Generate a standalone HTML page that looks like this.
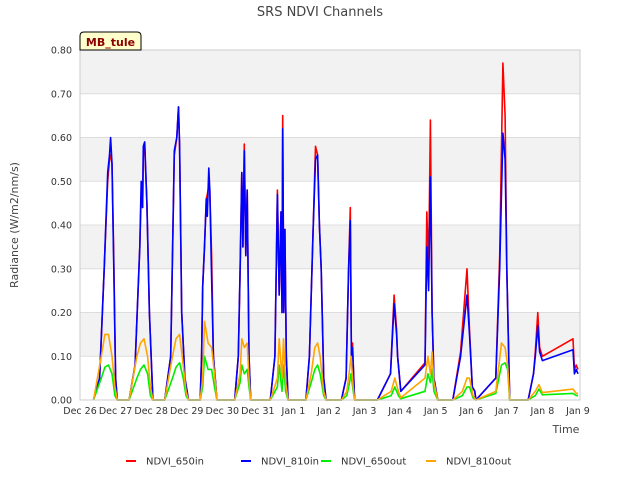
<!DOCTYPE html>
<html><head><meta charset="utf-8"><style>
body{margin:0;background:#fff;font-family:"Liberation Sans","DejaVu Sans",sans-serif}
svg text{font-family:"DejaVu Sans","Liberation Sans",sans-serif}
</style></head><body>
<svg id="chart" width="640" height="480" xmlns="http://www.w3.org/2000/svg">
<rect width="640" height="480" fill="#fff"/>
<g id="bands"></g><g id="grid"></g>
<g id="series"></g>
<rect x="80" y="50" width="500" height="350" fill="none" stroke="#ccc"/>
<g id="yticks"></g><g id="xticks"></g>
<text x="320" y="16" text-anchor="middle" font-size="13" fill="#444">SRS NDVI Channels</text>
<text transform="translate(18,225) rotate(-90)" text-anchor="middle" font-size="11" fill="#444">Radiance (W/m2/nm/s)</text>
<text x="566" y="433" text-anchor="middle" font-size="11" fill="#444">Time</text>
<g>
<path d="M80,50 L80,36 Q80,32 84,32 L137,32 Q141,32 141,36 L141,50 Z" fill="#ffffcc" stroke="#000" stroke-width="1"/>
<text x="110.5" y="46" text-anchor="middle" font-size="11" font-weight="bold" fill="#8b0000">MB_tule</text>
</g>
<g id="legend"></g>
</svg>
<script>
const yTicks=[0,0.1,0.2,0.3,0.4,0.5,0.6,0.7,0.8];
const xTickLabels=["Dec 26","Dec 27","Dec 28","Dec 29","Dec 30","Dec 31","Jan 1","Jan 2","Jan 3","Jan 4","Jan 5","Jan 6","Jan 7","Jan 8","Jan 9"];
const seriesNames=["NDVI_650in","NDVI_810in","NDVI_650out","NDVI_810out"];
const T1=[0.38,0.55,0.68,0.78,0.83,0.86,0.9,0.95,1.0,1.05,
1.38,1.55,1.68,1.72,1.76,1.78,1.82,1.88,1.95,2.05,
2.38,2.55,2.65,2.72,2.77,2.8,2.86,2.95,3.05,
3.38,3.42,3.45,3.5,3.55,3.58,3.62,3.65,3.7,3.75,3.8,3.85,
4.35,4.45,4.5,4.55,4.58,4.62,4.66,4.7,4.75,4.8,
5.35,5.48,5.55,5.6,5.65,5.68,5.7,5.73,5.76,5.8,5.85,
6.35,6.45,6.55,6.62,6.68,6.73,6.78,6.85,6.92,
7.35,7.48,7.55,7.6,7.63,7.66,7.72,
8.36,8.73,8.83,8.9,8.93,9.02,9.7,9.75,9.8,9.85,9.9,9.95,10.06,
10.48,10.7,10.88,10.95,11.03,11.1,11.13,
11.69,11.8,11.89,11.95,12.0,12.08,
12.6,12.75,12.8,12.87,12.92,13.0,13.86,13.9,13.95,14.0];
const in810=[0,0.05,0.30,0.52,0.56,0.60,0.54,0.30,0.05,0,
0,0.08,0.35,0.50,0.44,0.58,0.59,0.45,0.20,0,
0,0.10,0.57,0.60,0.67,0.58,0.20,0.05,0,
0,0.10,0.26,0.35,0.46,0.42,0.53,0.48,0.28,0.10,0.05,0,
0,0.10,0.30,0.52,0.35,0.57,0.33,0.48,0.10,0,
0,0.10,0.47,0.24,0.43,0.20,0.62,0.20,0.39,0.10,0,
0,0.10,0.38,0.55,0.56,0.40,0.30,0.05,0,
0,0.05,0.30,0.41,0.10,0.12,0,
0,0.06,0.22,0.15,0.10,0.02,0.08,0.35,0.25,0.51,0.20,0.05,0,
0,0.10,0.24,0.15,0.03,0.02,0,
0.05,0.30,0.61,0.55,0.30,0,
0,0.06,0.10,0.17,0.11,0.09,0.115,0.06,0.07,0.06];
const in650=[0,0.05,0.30,0.50,0.55,0.56,0.54,0.32,0.05,0,
0,0.08,0.35,0.47,0.44,0.56,0.58,0.45,0.20,0,
0,0.10,0.56,0.60,0.67,0.58,0.20,0.05,0,
0,0.10,0.26,0.35,0.46,0.47,0.49,0.48,0.33,0.10,0.05,0,
0,0.10,0.29,0.52,0.35,0.585,0.33,0.48,0.10,0,
0,0.10,0.48,0.24,0.43,0.20,0.65,0.20,0.39,0.10,0,
0,0.10,0.38,0.58,0.56,0.40,0.30,0.05,0,
0,0.05,0.30,0.44,0.10,0.13,0,
0,0.06,0.24,0.16,0.10,0.02,0.085,0.43,0.30,0.64,0.20,0.05,0,
0,0.11,0.30,0.16,0.03,0.02,0,
0.05,0.33,0.77,0.65,0.30,0,
0,0.06,0.11,0.20,0.12,0.10,0.14,0.07,0.08,0.07];
const T2=[0.38,0.6,0.7,0.8,0.9,0.98,1.05,
1.38,1.6,1.7,1.8,1.9,1.98,2.05,
2.38,2.6,2.7,2.8,2.9,2.98,3.05,
3.38,3.45,3.5,3.6,3.7,3.78,3.85,
4.35,4.5,4.55,4.62,4.7,4.75,4.8,
5.35,5.55,5.6,5.68,5.72,5.78,5.85,
6.35,6.5,6.6,6.68,6.75,6.85,6.92,
7.35,7.5,7.58,7.62,7.68,7.72,
8.36,8.75,8.85,8.95,9.02,9.7,9.78,9.85,9.9,9.95,10.06,
10.48,10.75,10.88,10.95,11.05,11.13,
11.69,11.85,11.95,12.02,12.08,
12.6,12.8,12.9,13.0,13.86,13.95,14.0];
const out810=[0,0.10,0.15,0.15,0.10,0.03,0,
0,0.10,0.13,0.14,0.10,0.03,0,
0,0.10,0.14,0.15,0.08,0.02,0,
0,0.05,0.18,0.13,0.12,0.06,0,
0,0.06,0.14,0.12,0.13,0.05,0,
0,0.05,0.14,0.05,0.14,0.04,0,
0,0.06,0.12,0.13,0.10,0.02,0,
0,0.02,0.07,0.10,0.03,0,
0,0.02,0.05,0.02,0.005,0.05,0.10,0.06,0.11,0.04,0,
0,0.02,0.05,0.05,0.01,0,
0.02,0.13,0.12,0.08,0,
0,0.02,0.035,0.017,0.025,0.015,0.015];
const out650=[0,0.05,0.075,0.08,0.06,0.01,0,
0,0.05,0.07,0.08,0.06,0.01,0,
0,0.05,0.075,0.085,0.05,0.01,0,
0,0.03,0.10,0.07,0.07,0.03,0,
0,0.04,0.08,0.06,0.07,0.03,0,
0,0.03,0.08,0.02,0.08,0.02,0,
0,0.04,0.07,0.08,0.06,0.01,0,
0,0.01,0.04,0.06,0.02,0,
0,0.01,0.03,0.01,0.003,0.02,0.06,0.04,0.07,0.02,0,
0,0.01,0.03,0.03,0.005,0,
0.015,0.08,0.085,0.07,0,
0,0.01,0.025,0.012,0.015,0.01,0.01];

const NS="http://www.w3.org/2000/svg";
const X0=80,X1=580,Y0=400,Y1=50,DAYW=35.57;
const xs=t=>X0+t*DAYW;
const ys=v=>Y0-(v/0.8)*(Y0-Y1);
function mk(tag,attrs,parent){const e=document.createElementNS(NS,tag);for(const k in attrs)e.setAttribute(k,attrs[k]);parent.appendChild(e);return e;}
const bands=document.getElementById('bands'),grid=document.getElementById('grid');
for(let i=0;i<yTicks.length-1;i++){
  if(i%2===1){const r=mk('rect',{x:X0,y:ys(yTicks[i+1]),width:X1-X0,height:ys(yTicks[i])-ys(yTicks[i+1]),fill:'#f2f2f2'},bands);
  
  }
}
const yt=document.getElementById('yticks');
yTicks.forEach(v=>{
  const l=mk('line',{x1:X0,x2:X1,y1:ys(v),y2:ys(v),stroke:'#ddd'},grid);
  
  
  const t=mk('text',{x:72,y:ys(v)+3.5,'text-anchor':'end','font-size':'9.5',fill:'#333'},yt);
  
  
  t.textContent=v.toFixed(2);
});
const xt=document.getElementById('xticks');
xTickLabels.forEach((s,i)=>{
  const t=mk('text',{x:xs(i),y:414,'text-anchor':'middle','font-size':'9.5',fill:'#333'},xt);
  
  
  t.textContent=s;
});
const sg=document.getElementById('series');
function draw(T,V,color,name){
  const d=T.map((t,i)=>(i?'L':'M')+xs(t).toFixed(1)+','+ys(V[i]).toFixed(1)).join('');
  const p=mk('path',{d:d,fill:'none',stroke:color,'stroke-width':'1.6','stroke-linejoin':'round'},sg);
  
  
}
draw(T1,in650,'#ff0000','ndvi-650in');
draw(T1,in810,'#0000ff','ndvi-810in');
draw(T2,out650,'#00ee00','ndvi-650out');
draw(T2,out810,'#ffa500','ndvi-810out');
const colors=['#ff0000','#0000ff','#00ee00','#ffa500'];
const lx=[126,241,321,426];
const lg=document.getElementById('legend');
seriesNames.forEach((n,i)=>{
  const g=mk('g',{},lg);
  
  
  mk('line',{x1:lx[i],x2:lx[i]+10,y1:461,y2:461,stroke:colors[i],'stroke-width':'2'},g);
  const t=mk('text',{x:lx[i]+20,y:464.5,'font-size':'10',fill:'#333'},g);
  t.textContent=n;
});
</script>
</body></html>
